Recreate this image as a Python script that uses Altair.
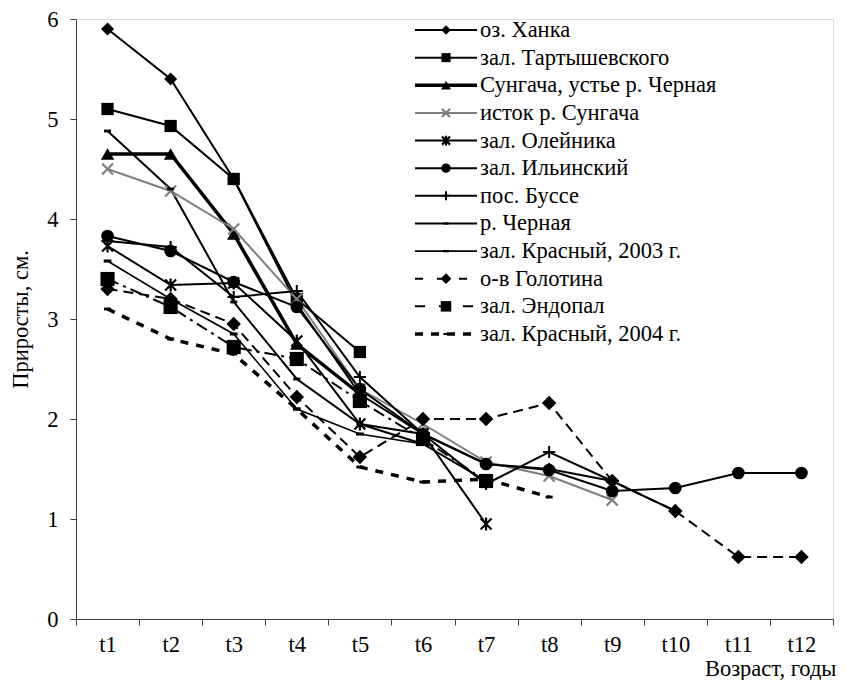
import altair as alt
import pandas as pd

t_labels = ["t1", "t2", "t3", "t4", "t5", "t6", "t7", "t8", "t9", "t10", "t11", "t12"]

names = [
    "оз. Ханка",
    "зал. Тартышевского",
    "Сунгача, устье р. Черная",
    "исток р. Сунгача",
    "зал. Олейника",
    "зал. Ильинский",
    "пос. Буссе",
    "р. Черная",
    "зал. Красный, 2003 г.",
    "о-в Голотина",
    "зал. Эндопал",
    "зал. Красный, 2004 г.",
]

v_hanka = [5.9, 5.4, 4.4, 3.15, 2.25, 1.85, 1.55, 1.5, 1.38, 1.08]
v_tart = [5.1, 4.93, 4.4, 3.2, 2.67]
v_sung_ust = [4.65, 4.65, 3.85, 2.75, 2.25]
v_istok = [4.5, 4.28, 3.9, 3.2, 2.3, 1.95, 1.57, 1.43, 1.19]
v_oleyn = [3.73, 3.34, 3.36, 2.78, 1.95, 1.85, 0.95]
v_ilin = [3.83, 3.68, 3.37, 3.12, 2.3, 1.85, 1.55, 1.49, 1.28, 1.31, 1.46, 1.46]
v_busse = [3.78, 3.72, 3.22, 3.28, 2.42, 1.85, 1.35, 1.67, 1.38]
v_chern = [4.88, 4.3, 3.17, 2.4, 1.95, 1.75, 1.38]
v_kras03 = [3.58, 3.2, 2.85, 2.1, 1.85, 1.75]
v_golot = [3.3, 3.2, 2.95, 2.22, 1.62, 2.0, 2.0, 2.16, 1.38, 1.08, 0.62, 0.62]
v_endop = [3.4, 3.12, 2.72, 2.6, 2.18, 1.8, 1.38]
v_kras04 = [3.1, 2.8, 2.65, 2.1, 1.52, 1.37, 1.4, 1.22]

series_values = [v_hanka, v_tart, v_sung_ust, v_istok, v_oleyn, v_ilin,
                 v_busse, v_chern, v_kras03, v_golot, v_endop, v_kras04]

rows = []
for n, vals in zip(names, series_values):
    for i, v in enumerate(vals):
        rows.append({"series": n, "t": t_labels[i], "value": v})
df = pd.DataFrame(rows)
leg_df = pd.DataFrame({"series": names})

FONT = "'Liberation Serif', 'Times New Roman', Times, serif"
FS = 22.5
X_PATH = "M-1,-1L1,1M-1,1L1,-1"
AST_PATH = "M-1,-1L1,1M-1,1L1,-1M0,-1.2L0,1.2"
PLUS_PATH = "M-1,0L1,0M0,-1L0,1"
BAR_PATH = "M-1,-0.4L1,-0.4L1,0.4L-1,0.4Z"

styles = {
    names[0]: dict(color="black", width=2, dash=None, shape="diamond", filled=True, size=170, sw=1),
    names[1]: dict(color="black", width=2, dash=None, shape="square", filled=True, size=150, sw=1),
    names[2]: dict(color="black", width=3.5, dash=None, shape="triangle-up", filled=True, size=180, sw=1),
    names[3]: dict(color="#7f7f7f", width=2, dash=None, shape=X_PATH, filled=False, size=120, sw=2.2),
    names[4]: dict(color="black", width=2, dash=None, shape=AST_PATH, filled=False, size=120, sw=2.2),
    names[5]: dict(color="black", width=2, dash=None, shape="circle", filled=True, size=160, sw=1),
    names[6]: dict(color="black", width=2, dash=None, shape=PLUS_PATH, filled=False, size=150, sw=2),
    names[7]: dict(color="black", width=2, dash=None, shape=BAR_PATH, filled=True, size=50, sw=0),
    names[8]: dict(color="black", width=1.6, dash=None, shape=BAR_PATH, filled=True, size=60, sw=0),
    names[9]: dict(color="black", width=2, dash=[10, 6], shape="diamond", filled=True, size=210, sw=1),
    names[10]: dict(color="black", width=2, dash=[12, 5, 3, 5], shape="square", filled=True, size=200, sw=1),
    names[11]: dict(color="black", width=3.5, dash=[8, 8], shape=BAR_PATH, filled=True, size=50, sw=0),
}

x_enc = alt.X(
    "t:O",
    scale=alt.Scale(type="band", domain=t_labels, paddingInner=0, paddingOuter=0),
    bandPosition=0.5,
    title="Возраст, годы",
    axis=alt.Axis(
        tickBand="extent", labelAngle=0, labelFont=FONT, labelFontSize=FS,
        labelColor="black", labelPadding=8, tickSize=6, tickColor="#404040",
        domainColor="#404040", titleFont=FONT, titleFontSize=FS,
        titleFontWeight="normal", titleColor="black", titleAnchor="end",
        titleAlign="right", titleBaseline="alphabetic", titleX=760, titleY=56, grid=False,
    ),
)
y_enc = alt.Y(
    "value:Q",
    scale=alt.Scale(domain=[0, 6]),
    title="Приросты, см.",
    axis=alt.Axis(
        values=[0, 1, 2, 3, 4, 5, 6], labelFont=FONT, labelFontSize=FS,
        labelColor="black", labelPadding=12, tickSize=6, tickColor="#404040",
        domainColor="#404040", titleFont=FONT, titleFontSize=FS,
        titleFontWeight="normal", titleColor="black", titlePadding=14, grid=False,
    ),
)

base = alt.Chart(df)
main_layers = []
for n in names:
    s = styles[n]
    line_kw = dict(color=s["color"], strokeWidth=s["width"])
    if s["dash"]:
        line_kw["strokeDash"] = s["dash"]
    f = alt.datum.series == n
    main_layers.append(base.transform_filter(f).mark_line(**line_kw).encode(x=x_enc, y=y_enc))
for n in names:
    s = styles[n]
    f = alt.datum.series == n
    pt_kw = dict(shape=s["shape"], filled=s["filled"], size=s["size"], color=s["color"], opacity=1)
    if s["sw"]:
        pt_kw["strokeWidth"] = s["sw"]
    main_layers.append(base.transform_filter(f).mark_point(**pt_kw).encode(x=x_enc, y=y_enc))

leg_y = alt.Y("series:N", scale=alt.Scale(type="point", domain=names, range=[11, 315], padding=0), axis=None)
lbase = alt.Chart(leg_df)
leg_layers = []
for n in names:
    s = styles[n]
    f = alt.datum.series == n
    rule_kw = dict(color=s["color"], strokeWidth=s["width"])
    if s["dash"]:
        rule_kw["strokeDash"] = [8, 14] if n == names[9] else ([10, 14, 4, 20] if n == names[10] else s["dash"])
    leg_layers.append(lbase.transform_filter(f).mark_rule(**rule_kw).encode(
        x=alt.value(339), x2=alt.value(401), y=leg_y))
    pt_kw = dict(shape=s["shape"], filled=s["filled"], size=s["size"] * 0.55, color=s["color"], opacity=1)
    if s["sw"]:
        pt_kw["strokeWidth"] = s["sw"]
    leg_layers.append(lbase.transform_filter(f).mark_point(**pt_kw).encode(x=alt.value(370), y=leg_y))
leg_layers.append(lbase.mark_text(align="left", baseline="middle", font=FONT, fontSize=FS, color="black").encode(
    x=alt.value(404), y=leg_y, text="series:N"))

chart = alt.layer(alt.layer(*main_layers), alt.layer(*leg_layers)).resolve_scale(y="independent").properties(
    width=757, height=600,
    autosize=alt.AutoSizeParams(type="none"),
    padding={"left": 68, "top": 11, "right": 5, "bottom": 61},
).configure_view(stroke=None).configure(background="white", font=FONT)

chart.save("out.html", embed_options={"renderer": "svg", "actions": False})
